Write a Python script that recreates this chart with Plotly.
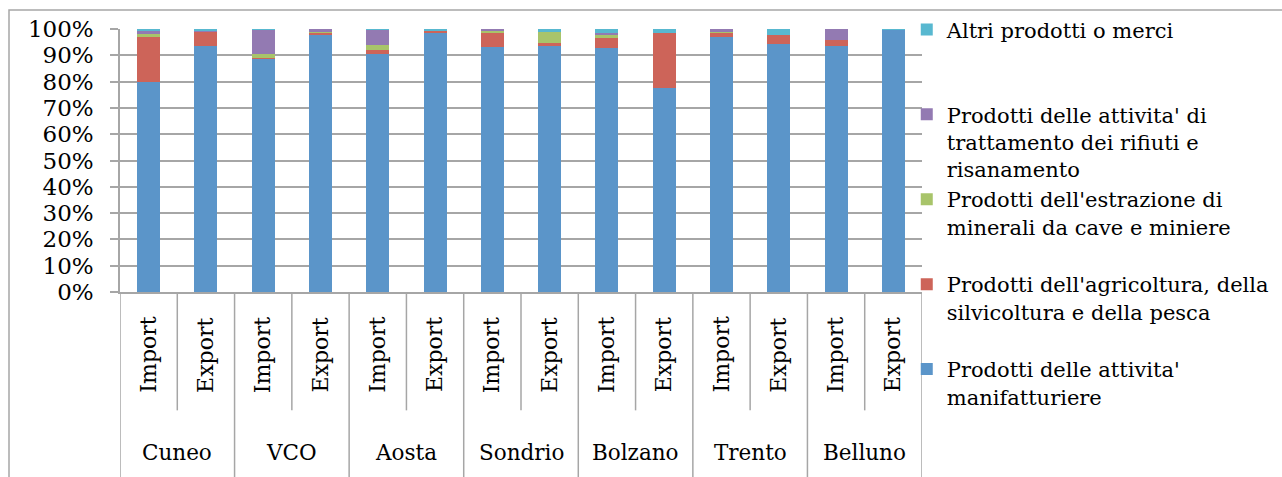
import plotly.graph_objects as go

provinces = ["Cuneo", "VCO", "Aosta", "Sondrio", "Bolzano", "Trento", "Belluno"]
flows = ["Import", "Export"]
y_ticks = list(range(0, 101, 10))
y_tick_labels = [f"{v}%" for v in y_ticks]

# percentage shares per bar (order: Cuneo Imp, Cuneo Exp, VCO Imp, ...)
manifatturiere = [79.7, 93.5, 88.9, 98.0, 90.6, 98.7, 93.0, 93.5, 92.7, 77.6, 96.8, 94.4, 93.4, 99.7]
agricoltura    = [17.4,  5.4,  0.2,  0.5,  1.3,  0.5,  5.6,  1.0,  3.9, 20.9,  1.8,  3.2,  2.4,  0.0]
estrazione     = [ 1.0,  0.1,  1.5,  0.5,  1.9,  0.0,  0.8,  4.4,  1.4,  0.0,  0.4,  0.0,  0.0,  0.0]
rifiuti        = [ 1.5,  0.1,  9.2,  1.0,  5.9,  0.0,  0.6,  0.1,  0.5,  0.0,  1.0,  0.0,  4.2,  0.0]
altri          = [ 0.4,  0.9,  0.2,  0.0,  0.3,  0.8,  0.0,  1.0,  1.5,  1.5,  0.0,  2.4,  0.0,  0.3]

series = [
    ("Prodotti delle attivita'<br>manifatturiere", manifatturiere, "#5B95C9"),
    ("Prodotti dell'agricoltura, della<br>silvicoltura e della pesca<br> ", agricoltura, "#CD6459"),
    ("Prodotti dell'estrazione di<br>minerali da cave e miniere<br> ", estrazione, "#A8C46A"),
    ("Prodotti delle attivita' di<br>trattamento dei rifiuti e<br>risanamento", rifiuti, "#937AB2"),
    ("Altri prodotti o merci<br> <br> ", altri, "#58B8D0"),
]

n = len(provinces) * len(flows)
xpos = list(range(n))
inner_labels = [f for _ in provinces for f in flows]

FONT = "DejaVu Serif"
GRAY = "#a6a6a6"

fig = go.Figure()
for name, vals, col in series:
    fig.add_trace(go.Bar(x=xpos, y=vals, name=name, marker=dict(color=col, line=dict(width=0))))

shapes = []
annotations = []
for i, lab in enumerate(inner_labels):
    annotations.append(dict(x=i, y=-0.2395, xref="x", yref="paper", text=lab, showarrow=False,
                            textangle=-90, font=dict(family=FONT, size=22, color="black"),
                            xanchor="center", yanchor="middle"))
for g, prov in enumerate(provinces):
    annotations.append(dict(x=2 * g + 0.5, y=-0.612, xref="x", yref="paper", text=prov, showarrow=False,
                            font=dict(family=FONT, size=21.5, color="black"),
                            xanchor="center", yanchor="middle"))
    shapes.append(dict(type="line", xref="x", yref="paper", x0=2 * g + 0.5, x1=2 * g + 0.5,
                       y0=0, y1=-0.45, line=dict(color=GRAY, width=1.5)))
for g in range(len(provinces) + 1):
    shapes.append(dict(type="line", xref="x", yref="paper", x0=2 * g - 0.5, x1=2 * g - 0.5,
                       y0=0, y1=-0.75, line=dict(color=GRAY, width=1.5)))
# chart border
shapes.append(dict(type="rect", xref="paper", yref="paper", x0=-0.1384, x1=1.6, y0=-1.0, y1=1.0722,
                   line=dict(color=GRAY, width=1.5), fillcolor="rgba(0,0,0,0)", layer="above"))

fig.update_layout(
    width=1282, height=477,
    margin=dict(l=120, r=360, t=29, b=185, autoexpand=False),
    barmode="stack", bargap=0.6,
    plot_bgcolor="white", paper_bgcolor="white",
    font=dict(family=FONT, color="black"),
    xaxis=dict(range=[-0.5, n - 0.5], showticklabels=False, ticks="", showgrid=False,
               showline=True, linecolor=GRAY, linewidth=1.5, zeroline=False),
    yaxis=dict(range=[0, 100], tickvals=y_ticks, ticktext=y_tick_labels,
               showgrid=True, gridcolor=GRAY, gridwidth=1.5,
               showline=True, linecolor=GRAY, linewidth=1.5, zeroline=False,
               ticks="outside", ticklen=8, tickcolor=GRAY, tickwidth=1.5,
               ticklabelstandoff=12,
               tickfont=dict(family=FONT, size=23, color="black")),
    legend=dict(x=0.981, xanchor="left", y=1.075, yanchor="top", traceorder="reversed",
                valign="top", font=dict(family=FONT, size=21, color="black"),
                bgcolor="rgba(0,0,0,0)", tracegroupgap=0, maxheight=470),
    shapes=shapes, annotations=annotations,
    showlegend=True,
)

fig.write_html("out.html")
